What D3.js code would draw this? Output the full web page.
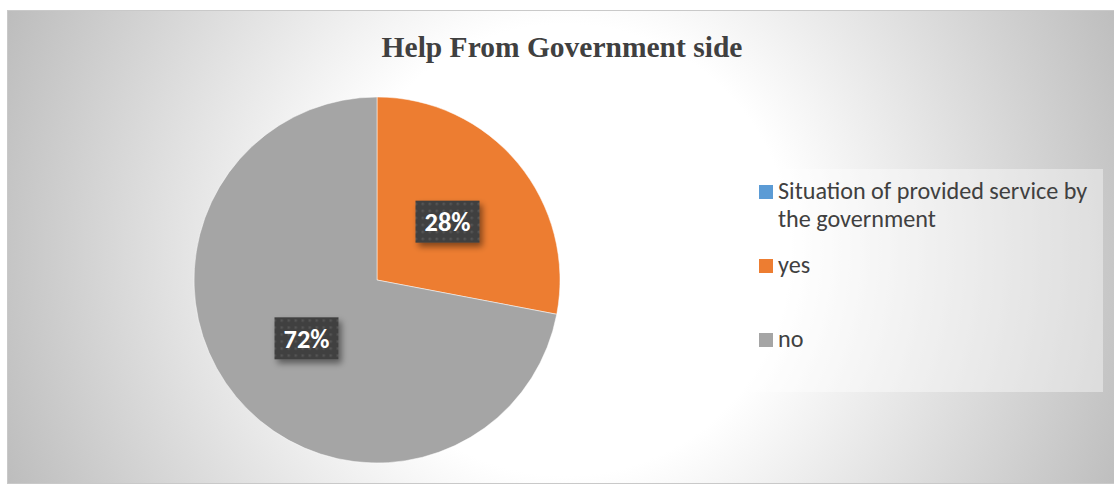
<!DOCTYPE html>
<html>
<head>
<meta charset="utf-8">
<script src="https://cdn.jsdelivr.net/npm/d3@7"></script>
<style>
  html, body { margin: 0; padding: 0; background: #ffffff; }
  svg { display: block; }
</style>
</head>
<body>
<svg id="chart" width="1114" height="485"></svg>
<script>
// Survey answers: share of respondents who received help from the government
const chartTitle = "Help From Government side";
const categories = ["Situation of provided service by the government", "yes", "no"];
const values = [0, 28, 72];

const W = 1114, H = 485;
const svg = d3.select("#chart");
const defs = svg.append("defs");

// chart-area radial fill
const bg = defs.append("radialGradient")
  .attr("id", "bgGrad").attr("gradientUnits", "userSpaceOnUse")
  .attr("cx", 565).attr("cy", 250).attr("r", 610);
bg.append("stop").attr("offset", 0).attr("stop-color", "#ffffff");
bg.append("stop").attr("offset", 0.37).attr("stop-color", "#ffffff");
bg.append("stop").attr("offset", 1).attr("stop-color", "#bcbcbc");

// dotted dark texture for data labels
const pat = defs.append("pattern").attr("id", "dots")
  .attr("patternUnits", "userSpaceOnUse").attr("width", 7).attr("height", 7);
pat.append("rect").attr("width", 7).attr("height", 7).attr("fill", "#3f3f3f");
pat.append("rect").attr("x", 2).attr("y", 2).attr("width", 2.5).attr("height", 2.5).attr("fill", "#555555");

const shadow = defs.append("filter").attr("id", "shadow")
  .attr("x", "-40%").attr("y", "-40%").attr("width", "180%").attr("height", "180%");
shadow.append("feDropShadow").attr("dx", 3).attr("dy", 4).attr("stdDeviation", 3)
  .attr("flood-color", "#000").attr("flood-opacity", 0.45);

// chart area
svg.append("rect").attr("x", 7.5).attr("y", 10.5).attr("width", W).attr("height", 473)
  .attr("fill", "url(#bgGrad)").attr("stroke", "#c9c9c9").attr("stroke-width", 1);

const fitSize = (text, family, weight, base, targetW) => {
  const t = svg.append("text").attr("font-family", family).attr("font-weight", weight)
    .attr("font-size", base).text(text);
  const w = t.node().getComputedTextLength();
  t.remove();
  return base * targetW / w;
};

// title
const titleFont = "'Liberation Serif', 'Times New Roman', serif";
svg.append("text")
  .attr("x", 562).attr("y", 57)
  .attr("text-anchor", "middle")
  .attr("font-family", titleFont).attr("font-weight", "bold")
  .attr("font-size", fitSize(chartTitle, titleFont, "bold", 29, 361))
  .attr("fill", "#404040")
  .text(chartTitle);

// pie
const cx = 377, cy = 280, radius = 183;
const color = d3.scaleOrdinal().domain(categories).range(["#5b9bd5", "#ed7d31", "#a5a5a5"]);
const pie = d3.pie().sort(null).value(d => d.value);
const data = categories.map((c, i) => ({ name: c, value: values[i] }));
const arcs = pie(data);
const arc = d3.arc().innerRadius(0).outerRadius(radius);
const total = d3.sum(values);

const g = svg.append("g").attr("transform", `translate(${cx},${cy})`);
g.selectAll("path.slice").data(arcs.filter(d => d.value > 0)).join("path")
  .attr("class", "slice")
  .attr("d", arc)
  .attr("fill", d => color(d.data.name))
  .attr("stroke", "#ffffff").attr("stroke-width", 0.5);

// data labels
const labelFont = "Carlito, Lato, 'Open Sans', sans-serif";
const labelSize = fitSize("28%", labelFont, "bold", 24, 46);
const lab = g.selectAll("g.lab").data(arcs.filter(d => d.value > 0)).join("g")
  .attr("class", "lab")
  .attr("transform", d => `translate(${arc.centroid(d)})`);
lab.append("rect")
  .attr("x", -32).attr("y", -21).attr("width", 64).attr("height", 42)
  .attr("fill", "url(#dots)").attr("filter", "url(#shadow)");
lab.append("text")
  .attr("text-anchor", "middle").attr("dy", "0.36em")
  .attr("font-family", labelFont).attr("font-weight", "bold")
  .attr("font-size", labelSize).attr("fill", "#ffffff")
  .text(d => d3.format(".0%")(d.value / total));

// legend
const legFont = "Carlito, Lato, 'Open Sans', sans-serif";
const legSize = fitSize("Situation of provided service by", legFont, "normal", 18.67, 309);
svg.append("rect").attr("x", 747).attr("y", 169).attr("width", 356).attr("height", 223)
  .attr("fill", "#ffffff").attr("fill-opacity", 0.4);

const legY = [199, 273, 347];
const maxLine = 318;
const leg = svg.append("g");
categories.forEach((c, i) => {
  const row = leg.append("g");
  row.append("rect").attr("x", 759).attr("y", legY[i] - 14).attr("width", 14).attr("height", 14)
    .attr("fill", color(c));
  const t = row.append("text").attr("x", 778).attr("y", legY[i])
    .attr("font-family", legFont).attr("font-size", legSize).attr("fill", "#404040");
  // wrap long entries onto extra lines
  const words = c.split(" ");
  let line = [], tspan = t.append("tspan").attr("x", 778).attr("dy", 0);
  words.forEach(w => {
    line.push(w);
    tspan.text(line.join(" "));
    if (tspan.node().getComputedTextLength() > maxLine && line.length > 1) {
      line.pop();
      tspan.text(line.join(" "));
      line = [w];
      tspan = t.append("tspan").attr("x", 778).attr("dy", 28).text(w);
    }
  });
});
</script>
</body>
</html>
